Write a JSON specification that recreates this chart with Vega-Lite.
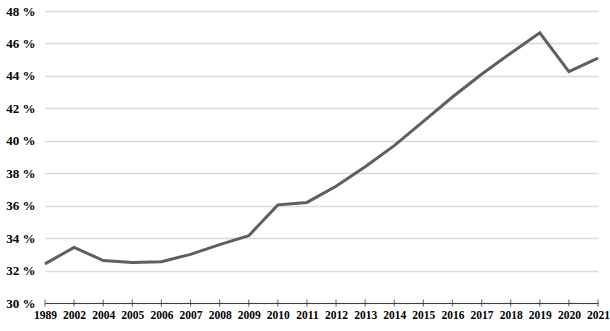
{
  "$schema": "https://vega.github.io/schema/vega-lite/v6.json",
  "width": 553,
  "height": 292,
  "autosize": {"type": "none"},
  "padding": {"left": 45, "top": 11, "right": 12, "bottom": 28},
  "background": "white",
  "config": {
    "view": {"stroke": null},
    "font": "Times New Roman, Liberation Serif, serif",
    "axis": {
      "labelFont": "Times New Roman, Liberation Serif, serif",
      "labelFontWeight": "bold",
      "labelColor": "black",
      "labelOverlap": false,
      "labelBound": false
    },
    "axisX": {"labelFontSize": 11.5, "labelPadding": 6},
    "axisY": {"labelFontSize": 13, "labelPadding": 10}
  },
  "data": {
    "values": [
      {"year": "1989", "v": 32.41},
      {"year": "2002", "v": 33.43},
      {"year": "2004", "v": 32.62},
      {"year": "2005", "v": 32.5},
      {"year": "2006", "v": 32.55},
      {"year": "2007", "v": 33.0},
      {"year": "2008", "v": 33.6},
      {"year": "2009", "v": 34.15},
      {"year": "2010", "v": 36.05},
      {"year": "2011", "v": 36.2},
      {"year": "2012", "v": 37.2},
      {"year": "2013", "v": 38.4},
      {"year": "2014", "v": 39.7},
      {"year": "2015", "v": 41.2},
      {"year": "2016", "v": 42.7},
      {"year": "2017", "v": 44.1},
      {"year": "2018", "v": 45.4},
      {"year": "2019", "v": 46.66},
      {"year": "2020", "v": 44.26},
      {"year": "2021", "v": 45.09}
    ]
  },
  "encoding": {
    "x": {
      "field": "year",
      "type": "ordinal",
      "sort": null,
      "scale": {"type": "point", "padding": 0},
      "axis": {
        "title": null,
        "labelAngle": 0,
        "domainColor": "#404040",
        "domainWidth": 1.2,
        "ticks": false,
        "grid": false
      }
    }
  },
  "layer": [
    {
      "mark": {"type": "line", "color": "#5f5f5f", "strokeWidth": 3},
      "encoding": {
        "y": {
          "field": "v",
          "type": "quantitative",
          "scale": {"domain": [30, 48], "nice": false, "zero": false},
          "axis": {
            "title": null,
            "values": [30, 32, 34, 36, 38, 40, 42, 44, 46, 48],
            "labelExpr": "datum.value + ' %'",
            "domain": false,
            "ticks": false,
            "grid": true,
            "gridColor": "#d9d9d9",
            "gridWidth": 1.5
          }
        }
      }
    },
    {
      "mark": {"type": "tick", "orient": "vertical", "color": "#404040", "size": 7, "thickness": 1.2},
      "encoding": {
        "y": {
          "datum": 30,
          "type": "quantitative",
          "axis": {
            "title": null,
            "values": [30, 32, 34, 36, 38, 40, 42, 44, 46, 48],
            "labelExpr": "datum.value + ' %'",
            "domain": false,
            "ticks": false,
            "grid": true,
            "gridColor": "#d9d9d9",
            "gridWidth": 1.5
          }
        }
      }
    }
  ]
}
